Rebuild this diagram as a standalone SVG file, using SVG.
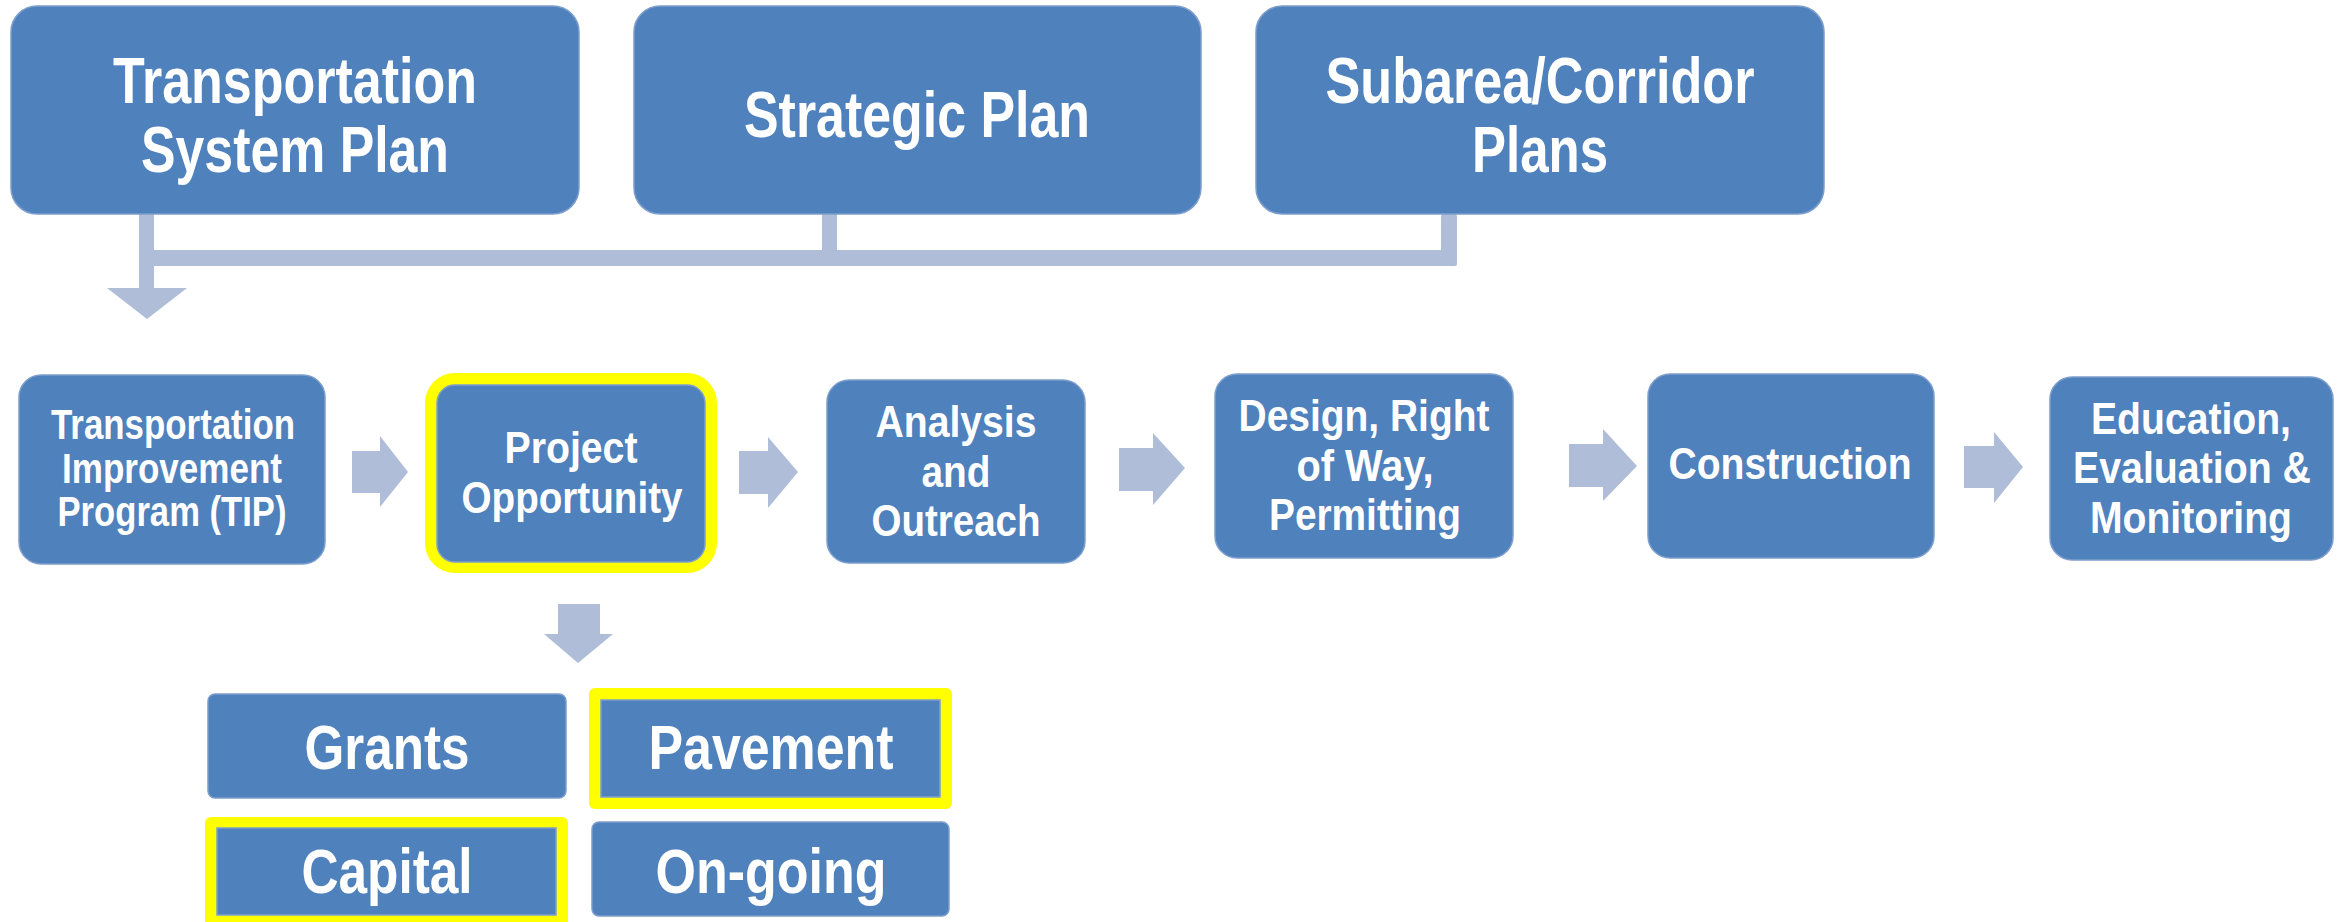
<svg xmlns="http://www.w3.org/2000/svg" width="2349" height="922" viewBox="0 0 2349 922">
<style>
.box{fill:#4F81BD;stroke:#7E9FCC;stroke-width:1.5}
.hl{fill:#FFFF00}
.con{fill:#AFBDD8}
text{font-family:"Liberation Sans Narrow","Liberation Sans",Arial,sans-serif;font-weight:bold;fill:#FFFFFF;text-anchor:middle}
.big{font-size:64px}
.mid{font-size:45px}
.sm{font-size:42px}
.bot{font-size:63px}
</style>
<rect width="2349" height="922" fill="#FFFFFF"/>
<g id="connectors">
  <rect class="con" x="139" y="212" width="15" height="77"/>
  <polygon class="con" points="107,288 187,288 147,319"/>
  <rect class="con" x="139" y="250" width="1318" height="16" rx="2"/>
  <rect class="con" x="822" y="212" width="15" height="40"/>
  <rect class="con" x="1441" y="211" width="16" height="55" rx="6"/>
  <polygon class="con" points="352,451 380,451 380,436 408,472 380,507 380,493 352,493"/>
  <polygon class="con" points="739,451 768,451 768,437 798,472 768,508 768,494 739,494"/>
  <polygon class="con" points="1119,448 1153,448 1153,433 1185,468 1153,505 1153,491 1119,491"/>
  <polygon class="con" points="1569,444 1603,444 1603,429 1637,466 1603,501 1603,487 1569,487"/>
  <polygon class="con" points="1964,446 1994,446 1994,432 2023,467 1994,503 1994,488 1964,488"/>
  <polygon class="con" points="558,604 600,604 600,634 613,634 578,663 544,634 558,634"/>
</g>
<g id="tsp">
  <rect class="box" x="11" y="6" width="568" height="208" rx="26"/>
  <text class="big" x="295" y="103" textLength="364" lengthAdjust="spacingAndGlyphs">Transportation</text>
  <text class="big" x="295" y="172" textLength="308" lengthAdjust="spacingAndGlyphs">System Plan</text>
</g>
<g id="strategic">
  <rect class="box" x="634" y="6" width="567" height="208" rx="26"/>
  <text class="big" x="917" y="137" textLength="346" lengthAdjust="spacingAndGlyphs">Strategic Plan</text>
</g>
<g id="subarea">
  <rect class="box" x="1256" y="6" width="568" height="208" rx="26"/>
  <text class="big" x="1540" y="103" textLength="429" lengthAdjust="spacingAndGlyphs">Subarea/Corridor</text>
  <text class="big" x="1540" y="172" textLength="136" lengthAdjust="spacingAndGlyphs">Plans</text>
</g>
<g id="tip">
  <rect class="box" x="19" y="375" width="306" height="189" rx="22"/>
  <text class="sm" x="173" y="439" textLength="244" lengthAdjust="spacingAndGlyphs">Transportation</text>
  <text class="sm" x="172" y="483" textLength="220" lengthAdjust="spacingAndGlyphs">Improvement</text>
  <text class="sm" x="172" y="526" textLength="229" lengthAdjust="spacingAndGlyphs">Program (TIP)</text>
</g>
<g id="project">
  <rect class="hl" x="425" y="373" width="292" height="200" rx="30"/>
  <rect class="box" x="437" y="385" width="268" height="177" rx="18"/>
  <text class="mid" x="571" y="463" textLength="133" lengthAdjust="spacingAndGlyphs">Project</text>
  <text class="mid" x="572" y="513" textLength="221" lengthAdjust="spacingAndGlyphs">Opportunity</text>
</g>
<g id="analysis">
  <rect class="box" x="827" y="380" width="258" height="183" rx="22"/>
  <text class="mid" x="956" y="437" textLength="161" lengthAdjust="spacingAndGlyphs">Analysis</text>
  <text class="mid" x="956" y="487" textLength="69" lengthAdjust="spacingAndGlyphs">and</text>
  <text class="mid" x="956" y="536" textLength="169" lengthAdjust="spacingAndGlyphs">Outreach</text>
</g>
<g id="design">
  <rect class="box" x="1215" y="374" width="298" height="184" rx="22"/>
  <text class="mid" x="1364" y="431" textLength="251" lengthAdjust="spacingAndGlyphs">Design, Right</text>
  <text class="mid" x="1365" y="481" textLength="137" lengthAdjust="spacingAndGlyphs">of Way,</text>
  <text class="mid" x="1365" y="530" textLength="192" lengthAdjust="spacingAndGlyphs">Permitting</text>
</g>
<g id="construction">
  <rect class="box" x="1648" y="374" width="286" height="184" rx="22"/>
  <text class="mid" x="1790" y="479" textLength="243" lengthAdjust="spacingAndGlyphs">Construction</text>
</g>
<g id="education">
  <rect class="box" x="2050" y="377" width="283" height="183" rx="22"/>
  <text class="mid" x="2191" y="434" textLength="200" lengthAdjust="spacingAndGlyphs">Education,</text>
  <text class="mid" x="2192" y="483" textLength="238" lengthAdjust="spacingAndGlyphs">Evaluation &amp;</text>
  <text class="mid" x="2191" y="533" textLength="202" lengthAdjust="spacingAndGlyphs">Monitoring</text>
</g>
<g id="grants">
  <rect class="box" x="208" y="694" width="358" height="104" rx="7"/>
  <text class="bot" x="387" y="769" textLength="165" lengthAdjust="spacingAndGlyphs">Grants</text>
</g>
<g id="pavement">
  <rect class="hl" x="589" y="688" width="363" height="121" rx="6"/>
  <rect class="box" x="601" y="700" width="339" height="97"/>
  <text class="bot" x="771" y="769" textLength="245" lengthAdjust="spacingAndGlyphs">Pavement</text>
</g>
<g id="capital">
  <rect class="hl" x="205" y="817" width="363" height="110" rx="6"/>
  <rect class="box" x="217" y="828" width="339" height="87"/>
  <text class="bot" x="387" y="893" textLength="171" lengthAdjust="spacingAndGlyphs">Capital</text>
</g>
<g id="ongoing">
  <rect class="box" x="592" y="822" width="357" height="94" rx="7"/>
  <text class="bot" x="771" y="893" textLength="231" lengthAdjust="spacingAndGlyphs">On-going</text>
</g>
</svg>
